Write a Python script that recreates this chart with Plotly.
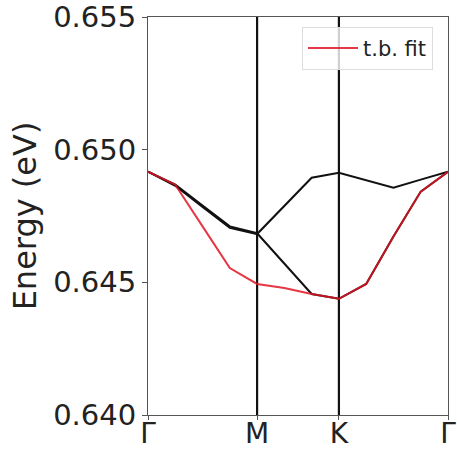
import plotly.graph_objects as go

# k-point index along the path Γ-M-K-Γ
k_index = list(range(12))
kpath_labels = ["Γ", "M", "K", "Γ"]
kpath_idx = [0, 4, 7, 11]

# DFT bands (eV)
band_lower = [0.64917, 0.64868, 0.64789, 0.64711, 0.64685, 0.64569,
              0.64456, 0.64438, 0.64494, 0.64673, 0.64842, 0.64917]
band_upper = [0.64917, 0.64864, 0.64784, 0.64705, 0.64682, 0.64789,
              0.64894, 0.64913, 0.64885, 0.64857, 0.64887, 0.64917]
# tight-binding fit (eV)
tb_fit = [0.64917, 0.64868, 0.64711, 0.64554, 0.64494, 0.64479,
          0.64456, 0.64438, 0.64494, 0.64673, 0.64842, 0.64917]

y_ticks = [0.640, 0.645, 0.650, 0.655]

fig = go.Figure()
for band in (band_lower, band_upper):
    fig.add_trace(go.Scatter(x=k_index, y=band, mode="lines",
                             line=dict(color="#111111", width=2),
                             showlegend=False, hoverinfo="skip"))
fig.add_trace(go.Scatter(x=k_index, y=tb_fit, mode="lines",
                         line=dict(color="rgba(225,20,35,0.85)", width=2),
                         name="t.b. fit"))

for xi in kpath_idx[1:-1]:
    fig.add_shape(type="line", x0=xi, x1=xi, y0=0, y1=1, xref="x", yref="paper",
                  line=dict(color="#111111", width=2.2), layer="below")

fig.update_layout(
    width=457, height=454,
    margin=dict(l=148, r=9, t=17, b=39, autoexpand=False),
    plot_bgcolor="white", paper_bgcolor="white",
    font=dict(family="DejaVu Sans", color="#222222", size=30),
    showlegend=True,
    legend=dict(x=0.95, y=0.975, xanchor="right", yanchor="top",
                itemwidth=50,
                bgcolor="rgba(255,255,255,0.8)", bordercolor="#dddddd", borderwidth=1,
                font=dict(size=21, family="DejaVu Sans", color="#222222")),
    xaxis=dict(range=[0, 11], tickvals=kpath_idx, ticktext=kpath_labels,
               showgrid=False, zeroline=False, showline=True, mirror=True,
               linecolor="#555555", linewidth=1, ticks="outside", ticklen=4,
               tickcolor="#555555", tickfont=dict(size=28),
               ticklabelstandoff=-11,
               ticklabeloverflow="allow", automargin=False),
    yaxis=dict(range=[0.640, 0.655], tickvals=y_ticks,
               ticktext=[f"{v:.3f}" for v in y_ticks],
               showgrid=False, zeroline=False, showline=True, mirror=True,
               linecolor="#555555", linewidth=1, ticks="outside", ticklen=5,
               tickcolor="#555555", tickfont=dict(size=29),
               ticklabeloverflow="allow", automargin=False,
               title=dict(text="Energy (eV)", font=dict(size=32), standoff=6)),
)

fig.write_html("out.html")
